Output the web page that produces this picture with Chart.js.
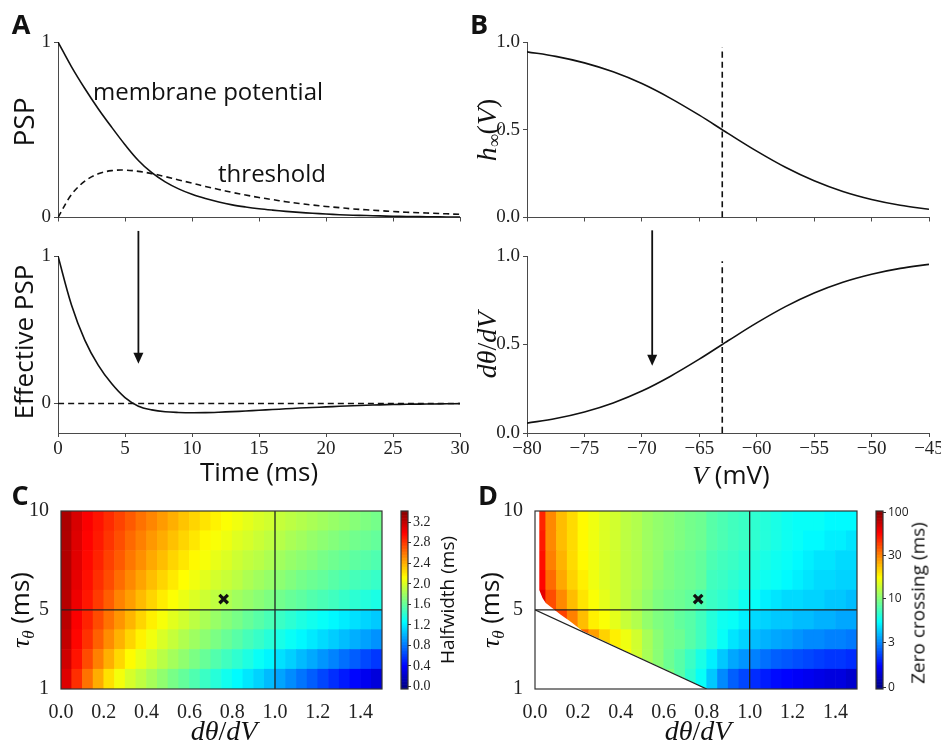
<!DOCTYPE html>
<html>
<head>
<meta charset="utf-8">
<script src="https://cdn.jsdelivr.net/npm/chart.js@4.4.0/dist/chart.umd.min.js"></script>
<style>
  html, body { margin: 0; padding: 0; background: #fff; overflow: hidden; width: 941px; height: 747px; }
  canvas { position: absolute; }
  .t { position: absolute; white-space: nowrap; color: #111; line-height: 1; transform: translate(-50%, -50%); }
  .r { transform: translate(-50%, -50%) rotate(-90deg); }
  .sans { font-family: "Open Sans", sans-serif; }
  .math { font-family: "Liberation Serif", serif; }
  .math i { font-style: italic; }
  .letter { font-family: "Open Sans", sans-serif; font-weight: bold; font-size: 27px; }
  sub { font-size: 65%; vertical-align: -0.25em; }
</style>
</head>
<body>

<canvas id="aTop" width="475" height="202" style="left:0;top:28px"></canvas>
<canvas id="aBot" width="475" height="265" style="left:0;top:225px"></canvas>
<canvas id="bTop" width="480" height="202" style="left:470px;top:28px"></canvas>
<canvas id="bBot" width="480" height="265" style="left:470px;top:225px"></canvas>
<canvas id="cMap" width="400" height="252" style="left:0;top:495px"></canvas>
<canvas id="cBar" width="60" height="210" style="left:395px;top:495px"></canvas>
<canvas id="dMap" width="405" height="252" style="left:470px;top:495px"></canvas>
<canvas id="dBar" width="71" height="210" style="left:870px;top:495px"></canvas>

<div class="t letter" style="left:21px;top:23px">A</div>
<div class="t letter" style="left:479px;top:23px">B</div>
<div class="t letter" style="left:20px;top:494px">C</div>
<div class="t letter" style="left:488px;top:494px">D</div>

<div class="t r sans" style="left:23px;top:122px;font-size:28px">PSP</div>
<div class="t sans" style="left:208px;top:91px;font-size:24px">membrane potential</div>
<div class="t sans" style="left:272px;top:173px;font-size:24px">threshold</div>
<div class="t r sans" style="left:23px;top:342px;font-size:26px">Effective PSP</div>
<div class="t sans" style="left:259px;top:471px;font-size:26px">Time (ms)</div>

<div class="t r math" style="left:488px;top:130px;font-size:28px"><i>h</i><sub>∞</sub>(<i>V</i>)</div>
<div class="t r math" style="left:487px;top:345px;font-size:28px"><i>dθ</i>/<i>dV</i></div>
<div class="t" style="left:731px;top:475px;font-size:26px"><span class="math"><i>V</i></span> <span class="sans">(mV)</span></div>

<div class="t r" style="left:22px;top:610px;font-size:26px"><span class="math"><i>τ</i><sub><i>θ</i></sub></span> <span class="sans">(ms)</span></div>
<div class="t math" style="left:224px;top:731px;font-size:28px"><i>dθ</i>/<i>dV</i></div>
<div class="t r sans" style="left:447px;top:600px;font-size:19px">Halfwidth (ms)</div>

<div class="t r" style="left:492px;top:610px;font-size:26px"><span class="math"><i>τ</i><sub><i>θ</i></sub></span> <span class="sans">(ms)</span></div>
<div class="t math" style="left:698px;top:731px;font-size:28px"><i>dθ</i>/<i>dV</i></div>
<div class="t r sans" style="left:918px;top:603px;font-size:19px">Zero crossing (ms)</div>

<script>
// ---- panel A: PSP time courses ----
var timeMs = [0, 1, 2, 3, 4, 5, 6, 7, 8, 9, 10, 11, 12, 13, 14, 15, 16, 17, 18, 19, 20,
              21, 22, 23, 24, 25, 26, 27, 28, 29, 30];
var membrane = [1, 0.86, 0.735, 0.62, 0.515, 0.415, 0.325, 0.255, 0.203, 0.163, 0.132, 0.108, 0.088,
                0.072, 0.06, 0.05, 0.042, 0.035, 0.029, 0.024, 0.02, 0.016, 0.013, 0.011, 0.009,
                0.007, 0.006, 0.005, 0.004, 0.003, 0.002];
var threshold = [0, 0.13, 0.207, 0.249, 0.267, 0.27, 0.263, 0.25, 0.233, 0.214, 0.196, 0.177, 0.16,
                 0.143, 0.128, 0.114, 0.102, 0.09, 0.08, 0.071, 0.063, 0.056, 0.049, 0.044, 0.039,
                 0.034, 0.03, 0.027, 0.024, 0.021, 0.018];
var effectivePsp = [1, 0.67, 0.43, 0.26, 0.135, 0.04, -0.018, -0.043, -0.056, -0.061, -0.063, -0.062,
                    -0.059, -0.055, -0.051, -0.046, -0.041, -0.036, -0.031, -0.027, -0.023, -0.019,
                    -0.015, -0.012, -0.009, -0.007, -0.005, -0.004, -0.003, -0.002, -0.001];
var aTicksX = [0, 5, 10, 15, 20, 25, 30];
var aTicksY = [0, 1];
var arrowA = [6, 1.17, 0.27];   // x, from, to

// ---- panel B: inactivation curves ----
var voltage = [-80, -77.5, -75, -72.5, -70, -67.5, -65, -63, -62.5, -60, -57.5, -55, -52.5, -50, -47.5, -45];
var hInf = [0.944, 0.918, 0.881, 0.83, 0.763, 0.679, 0.583, 0.5, 0.479, 0.378, 0.286, 0.209, 0.148,
            0.103, 0.07, 0.047];
var dThetaDv = [0.056, 0.082, 0.119, 0.17, 0.237, 0.321, 0.417, 0.5, 0.521, 0.622, 0.714, 0.791, 0.852,
                0.897, 0.93, 0.953];
var vHalf = -63;
var vHalfTop = 0.97;
var bTicksX = [-80, -75, -70, -65, -60, -55, -50, -45];
var bTicksY = [0, 0.5, 1];
var arrowB = [-69.1, 1.145, 0.38];

// ---- panels C and D: parameter maps ----
var slopeCols = [0.025, 0.075, 0.125, 0.175, 0.225, 0.275, 0.325, 0.375, 0.425, 0.475,
                 0.525, 0.575, 0.625, 0.675, 0.725, 0.775, 0.825, 0.875, 0.925, 0.975,
                 1.025, 1.075, 1.125, 1.175, 1.225, 1.275, 1.325, 1.375, 1.425, 1.475];
var tauRows = [9.5, 8.5, 7.5, 6.5, 5.5, 4.5, 3.5, 2.5, 1.5];
var halfwidth = [
  [3.27, 3.12, 3.00, 2.92, 2.84, 2.76, 2.68, 2.60, 2.53, 2.46, 2.39, 2.32, 2.26, 2.21, 2.16,
   2.11, 2.07, 2.03, 1.99, 1.96, 1.92, 1.89, 1.86, 1.83, 1.80, 1.77, 1.74, 1.71, 1.68, 1.65],
  [3.26, 3.10, 2.98, 2.90, 2.81, 2.72, 2.63, 2.55, 2.47, 2.40, 2.33, 2.26, 2.20, 2.14, 2.10,
   2.06, 2.01, 1.98, 1.94, 1.90, 1.87, 1.83, 1.80, 1.76, 1.73, 1.70, 1.67, 1.64, 1.62, 1.59],
  [3.25, 3.09, 2.96, 2.87, 2.77, 2.68, 2.58, 2.50, 2.41, 2.34, 2.26, 2.20, 2.14, 2.09, 2.04,
   2.00, 1.95, 1.91, 1.88, 1.84, 1.80, 1.76, 1.73, 1.70, 1.66, 1.63, 1.60, 1.57, 1.55, 1.52],
  [3.24, 3.07, 2.94, 2.83, 2.73, 2.62, 2.52, 2.43, 2.34, 2.26, 2.19, 2.12, 2.07, 2.02, 1.97,
   1.93, 1.89, 1.84, 1.80, 1.76, 1.73, 1.69, 1.65, 1.62, 1.59, 1.55, 1.52, 1.49, 1.47, 1.44],
  [3.23, 3.04, 2.91, 2.79, 2.67, 2.54, 2.45, 2.35, 2.26, 2.18, 2.11, 2.05, 2.00, 1.95, 1.90,
   1.85, 1.80, 1.76, 1.72, 1.68, 1.64, 1.60, 1.57, 1.53, 1.50, 1.47, 1.43, 1.40, 1.37, 1.34],
  [3.22, 3.00, 2.87, 2.73, 2.60, 2.48, 2.37, 2.26, 2.17, 2.09, 2.02, 1.96, 1.89, 1.83, 1.77,
   1.71, 1.66, 1.60, 1.55, 1.50, 1.45, 1.40, 1.35, 1.31, 1.27, 1.23, 1.19, 1.15, 1.11, 1.07],
  [3.19, 2.97, 2.82, 2.66, 2.51, 2.38, 2.26, 2.16, 2.07, 1.99, 1.92, 1.85, 1.79, 1.73, 1.67,
   1.61, 1.55, 1.49, 1.44, 1.38, 1.33, 1.28, 1.23, 1.18, 1.13, 1.08, 1.03, 0.98, 0.93, 0.88],
  [3.15, 2.92, 2.73, 2.55, 2.39, 2.25, 2.13, 2.04, 1.96, 1.88, 1.81, 1.74, 1.67, 1.60, 1.53,
   1.47, 1.41, 1.35, 1.28, 1.22, 1.15, 1.09, 1.02, 0.96, 0.89, 0.83, 0.76, 0.70, 0.63, 0.57],
  [3.10, 2.83, 2.60, 2.40, 2.22, 2.08, 1.98, 1.90, 1.82, 1.74, 1.66, 1.59, 1.52, 1.45, 1.38,
   1.31, 1.24, 1.17, 1.10, 1.02, 0.94, 0.86, 0.78, 0.70, 0.62, 0.54, 0.47, 0.40, 0.33, 0.26]
];
var zeroCrossing = [
  [56.3, 29.2, 25.0, 22.5, 20.0, 18.3, 16.7, 15.8, 14.2, 13.3, 11.7, 10.8, 10.0, 9.7, 9.4,
   9.2, 8.6, 8.3, 8.0, 7.8, 7.5, 7.2, 6.9, 6.6, 6.4, 6.4, 6.4, 6.1, 6.1, 6.1],
  [59.2, 29.2, 25.0, 22.5, 20.0, 18.3, 16.7, 15.8, 14.2, 13.3, 11.7, 10.8, 10.0, 9.7, 9.4,
   9.2, 8.6, 8.3, 8.0, 7.8, 7.5, 7.2, 6.9, 6.6, 6.4, 6.1, 6.1, 5.8, 5.8, 5.5],
  [62.1, 30.0, 25.8, 22.5, 20.0, 18.3, 16.7, 15.8, 14.2, 13.3, 11.7, 10.8, 9.7, 9.4, 9.2,
   8.9, 8.3, 8.0, 7.8, 7.5, 7.2, 6.9, 6.6, 6.4, 6.1, 5.8, 5.5, 5.5, 5.2, 5.2],
  [65.0, 35.8, 26.7, 23.3, 20.8, 18.3, 16.7, 15.8, 14.2, 13.3, 11.7, 10.0, 9.7, 9.4, 9.2,
   8.9, 8.0, 7.8, 7.5, 7.2, 6.9, 6.6, 6.4, 6.1, 5.8, 5.5, 5.2, 5.2, 5.0, 5.0],
  [73.8, 44.6, 29.2, 25.0, 21.7, 19.2, 17.5, 15.8, 14.2, 12.5, 10.8, 9.7, 9.4, 9.2, 8.9,
   8.3, 7.8, 7.5, 7.2, 6.6, 6.4, 5.8, 5.5, 5.2, 5.2, 5.0, 5.0, 4.7, 4.7, 4.4],
  [85.4, 67.9, 47.5, 30.0, 25.0, 20.8, 19.2, 17.5, 15.0, 13.3, 10.8, 9.7, 9.4, 8.9, 8.6,
   8.0, 7.2, 6.6, 6.4, 5.8, 5.2, 5.0, 4.7, 4.7, 4.4, 4.4, 4.1, 4.1, 3.8, 3.8],
  [null, null, null, 56.3, 38.8, 27.5, 23.3, 20.8, 18.3, 15.8, 12.5, 10.0, 9.4, 9.2, 8.6,
   8.0, 7.2, 6.4, 5.5, 5.0, 4.4, 4.1, 3.8, 3.6, 3.3, 3.0, 3.0, 2.9, 2.9, 2.8],
  [null, null, null, null, null, null, null, 22.5, 19.2, 15.8, 12.5, 10.0, 9.2, 8.6, 7.8,
   6.9, 5.8, 4.7, 3.8, 3.3, 2.9, 2.7, 2.5, 2.4, 2.3, 2.2, 2.1, 2.0, 2.0, 1.9],
  [null, null, null, null, null, null, null, null, null, null, null, 12.5, 9.7, 8.6, 7.5,
   6.4, 4.7, 3.0, 2.5, 2.2, 1.9, 1.7, 1.5, 1.4, 1.3, 1.2, 1.1, 1.0, 1.0, 0.8]
];
// edge of the region with no zero crossing (panel D)
var noCrossX = [0, 0.02, 0.02, 0.035, 0.05, 0.08, 0.12, 0.16, 0.22, 0.8, 0];
var noCrossTau = [10, 10, 6.0, 5.6, 5.35, 5.1, 4.75, 4.45, 3.95, 1, 1];
var limitX = [0, 0.8];
var limitTau = [5, 1];
var refSlope = 1.0;
var refTau = 5;
var operating = [0.76, 5.55];
var mapTicksX = [0, 0.2, 0.4, 0.6, 0.8, 1.0, 1.2, 1.4];
var mapTicksY = [1, 5, 10];
var halfwidthRange = [-0.05, 3.42];
var halfwidthTicks = [0, 0.4, 0.8, 1.2, 1.6, 2.0, 2.4, 2.8, 3.2];
var zeroCrossTicks = [0, 3, 10, 30, 100];
var zeroCrossTickPos = [0.01, 0.26, 0.51, 0.75, 0.99];

var INK = '#111';
var AXIS = '#4a4a4a';
var serifTick = { family: '"Liberation Serif", serif', size: 19, lineHeight: 1 };
var mapTick = { family: '"Liberation Serif", serif', size: 20, lineHeight: 1 };

function clamp(v) { return Math.max(0, Math.min(1, v)); }
function jet(f) {
  f = clamp(f);
  var r = clamp(1.5 - Math.abs(4 * f - 3));
  var g = clamp(1.5 - Math.abs(4 * f - 2));
  var b = clamp(1.5 - Math.abs(4 * f - 1));
  return 'rgb(' + Math.round(r * 255) + ',' + Math.round(g * 255) + ',' + Math.round(b * 255) + ')';
}
function halfwidthColor(v) {
  return jet((v - halfwidthRange[0]) / (halfwidthRange[1] - halfwidthRange[0]));
}
function zeroCrossFrac(v) {
  for (var i = 1; i < zeroCrossTicks.length; i++) {
    if (v <= zeroCrossTicks[i] || i === zeroCrossTicks.length - 1) {
      var a = zeroCrossTicks[i - 1], b = zeroCrossTicks[i];
      return zeroCrossTickPos[i - 1] + (v - a) / (b - a) * (zeroCrossTickPos[i] - zeroCrossTickPos[i - 1]);
    }
  }
}
function zeroCrossColor(v) { return jet(zeroCrossFrac(v)); }

function points(xs, ys) {
  return xs.map(function (x, i) { return { x: x, y: ys[i] }; });
}
function fixedTicks(vals) {
  return function (scale) { scale.ticks = vals.map(function (v) { return { value: v }; }); };
}
function minus(s) { return String(s).replace('-', '\u2212'); }

var arrowPlugin = {
  id: 'arrow',
  afterDatasetsDraw: function (chart, args, opts) {
    if (!opts || opts.at == null) return;
    var ctx = chart.ctx;
    var px = chart.scales.x.getPixelForValue(opts.at[0]);
    var y0 = chart.scales.y.getPixelForValue(opts.at[1]);
    var y1 = chart.scales.y.getPixelForValue(opts.at[2]);
    ctx.save();
    ctx.strokeStyle = INK;
    ctx.fillStyle = INK;
    ctx.lineWidth = 1.8;
    ctx.beginPath();
    ctx.moveTo(px, y0);
    ctx.lineTo(px, y1 - 8);
    ctx.stroke();
    ctx.beginPath();
    ctx.moveTo(px - 5, y1 - 11);
    ctx.lineTo(px + 5, y1 - 11);
    ctx.lineTo(px, y1);
    ctx.closePath();
    ctx.fill();
    ctx.restore();
  }
};

var framePlugin = {
  id: 'frame',
  afterDraw: function (chart) {
    var a = chart.chartArea, ctx = chart.ctx;
    ctx.save();
    ctx.strokeStyle = '#333';
    ctx.lineWidth = 1.2;
    ctx.strokeRect(a.left, a.top, a.right - a.left, a.bottom - a.top);
    ctx.restore();
  }
};

function lineAxis(range, ticks, size, horiz, showLabels, fmt) {
  return {
    type: 'linear',
    min: range[0],
    max: range[1],
    afterBuildTicks: fixedTicks(ticks),
    afterFit: function (s) { if (horiz) { s.height = size; } else { s.width = size; } },
    grid: { display: true, drawOnChartArea: false, tickLength: 4, color: AXIS },
    border: { display: true, color: AXIS, width: 1 },
    ticks: { display: showLabels, font: serifTick, color: '#222', padding: 3, maxRotation: 0,
             callback: fmt }
  };
}

function curve(xs, ys, dashed) {
  return {
    data: points(xs, ys),
    borderColor: INK,
    borderWidth: 1.6,
    borderDash: dashed ? [6, 4] : [],
    pointRadius: 0,
    tension: 0.35,
    fill: false
  };
}

function linePanel(id, datasets, xAxis, yAxis, pad, arrow) {
  return new Chart(document.getElementById(id), {
    type: 'line',
    data: { datasets: datasets },
    options: {
      responsive: false,
      animation: false,
      layout: { padding: pad },
      scales: { x: xAxis, y: yAxis },
      plugins: { legend: { display: false }, tooltip: { enabled: false }, arrow: { at: arrow } }
    },
    plugins: arrow ? [arrowPlugin] : []
  });
}

var fmtInt = function (v) { return String(v); };
var fmtOne = function (v) { return minus(v.toFixed(1)); };

// A top
linePanel('aTop',
  [curve(timeMs, membrane, false), curve(timeMs, threshold, true)],
  lineAxis([0, 30], aTicksX, 5, true, false, fmtInt),
  lineAxis([0, 1], aTicksY, 58, false, true, fmtInt),
  { left: 0, top: 14, right: 15, bottom: 6 }, null);

// A bottom
linePanel('aBot',
  [curve(timeMs, effectivePsp, false),
   curve([0, 30], [0, 0], true)],
  lineAxis([0, 30], aTicksX, 57, true, true, fmtInt),
  lineAxis([-0.2, 1], aTicksY, 58, false, true, fmtInt),
  { left: 0, top: 31, right: 15, bottom: 0 }, arrowA);

// B top
linePanel('bTop',
  [curve(voltage, hInf, false), curve([vHalf, vHalf], [0, vHalfTop], true)],
  lineAxis([-80, -45], bTicksX, 5, true, false, fmtInt),
  lineAxis([0, 1], bTicksY, 57, false, true, fmtOne),
  { left: 0, top: 14, right: 21, bottom: 5 }, null);

// B bottom
linePanel('bBot',
  [curve(voltage, dThetaDv, false), curve([vHalf, vHalf], [0, vHalfTop], true)],
  lineAxis([-80, -45], bTicksX, 57, true, true, function (v) { return minus(v); }),
  lineAxis([0, 1], bTicksY, 57, false, true, fmtOne),
  { left: 0, top: 31, right: 21, bottom: 0 }, arrowB);

// heat maps
function mapCells(grid, colorFn) {
  var half = (tauRows[0] - tauRows[1]) / 2;
  var cells = [], colors = [];
  tauRows.forEach(function (tau, r) {
    slopeCols.forEach(function (s, c) {
      var v = grid[r][c];
      if (v == null) return;
      cells.push({ x: s, y: [tau - half, tau + half] });
      colors.push(colorFn(v));
    });
  });
  return { type: 'bar', data: cells, backgroundColor: colors, borderWidth: 0,
           barPercentage: 1, categoryPercentage: 1, order: 5 };
}

function refLine(xs, ys) {
  return { type: 'line', data: points(xs, ys), borderColor: '#222', borderWidth: 1.3,
           pointRadius: 0, fill: false, order: 1 };
}

function mapPanel(id, grid, colorFn, yWidth, extra) {
  var datasets = [mapCells(grid, colorFn)].concat(extra || []).concat([
    refLine([refSlope, refSlope], [1, 10]),
    refLine([0, 1.5], [refTau, refTau]),
    { type: 'line', data: [{ x: operating[0], y: operating[1] }], showLine: false,
      pointStyle: 'crossRot', pointRadius: 6, borderWidth: 3.2, borderColor: INK, order: 0 }
  ]);
  return new Chart(document.getElementById(id), {
    type: 'bar',
    data: { datasets: datasets },
    options: {
      responsive: false,
      animation: false,
      layout: { padding: { left: 0, top: 16, right: 18, bottom: 0 } },
      scales: {
        x: {
          type: 'linear', min: 0, max: 1.5, offset: false,
          afterBuildTicks: fixedTicks(mapTicksX),
          afterFit: function (s) { s.height = 58; },
          grid: { display: false }, border: { display: false },
          ticks: { font: mapTick, color: '#222', padding: 6, maxRotation: 0,
                   callback: function (v) { return v.toFixed(1); } }
        },
        y: {
          type: 'linear', min: 1, max: 10,
          afterBuildTicks: fixedTicks(mapTicksY),
          afterFit: function (s) { s.width = yWidth; },
          grid: { display: false }, border: { display: false },
          ticks: { font: mapTick, color: '#222', padding: 4 }
        }
      },
      plugins: { legend: { display: false }, tooltip: { enabled: false } }
    },
    plugins: [framePlugin]
  });
}

mapPanel('cMap', halfwidth, halfwidthColor, 61, []);
mapPanel('dMap', zeroCrossing, zeroCrossColor, 65, [
  { type: 'line', data: points(noCrossX, noCrossTau), borderWidth: 0, pointRadius: 0,
    backgroundColor: '#fff', fill: 'shape', order: 3 },
  refLine(limitX, limitTau)
]);

// colour bars
function colorBar(id, range, ticks, colorAt, labelFn, font, yWidth) {
  var n = 120, segs = [];
  for (var i = 0; i < n; i++) {
    var lo = range[0] + (range[1] - range[0]) * i / n;
    var hi = range[0] + (range[1] - range[0]) * (i + 1) / n;
    segs.push({ data: [[lo, hi]], backgroundColor: colorAt((i + 0.5) / n), borderWidth: 0,
                grouped: false, barPercentage: 1, categoryPercentage: 1 });
  }
  return new Chart(document.getElementById(id), {
    type: 'bar',
    data: { labels: [''], datasets: segs },
    options: {
      responsive: false,
      animation: false,
      layout: { padding: { left: 6, top: 16, right: 0, bottom: 16 } },
      scales: {
        x: { display: false },
        y: {
          position: 'right', min: range[0], max: range[1],
          afterBuildTicks: fixedTicks(ticks),
          afterFit: function (s) { s.width = yWidth; },
          grid: { display: true, drawOnChartArea: false, tickLength: 3, color: '#333' },
          border: { display: false },
          ticks: { font: font, color: '#222', padding: 2, callback: labelFn }
        }
      },
      plugins: { legend: { display: false }, tooltip: { enabled: false } }
    },
    plugins: [framePlugin]
  });
}

colorBar('cBar', halfwidthRange, halfwidthTicks,
  function (f) { return jet(f); },
  function (v) { return v.toFixed(1); },
  { family: '"Liberation Serif", serif', size: 14, lineHeight: 1 }, 47);

colorBar('dBar', [0, 1], zeroCrossTickPos,
  function (f) { return jet(f); },
  function (v, i) { return String(zeroCrossTicks[i]); },
  { family: '"Open Sans", sans-serif', size: 12, lineHeight: 1 }, 58);
</script>
</body>
</html>
